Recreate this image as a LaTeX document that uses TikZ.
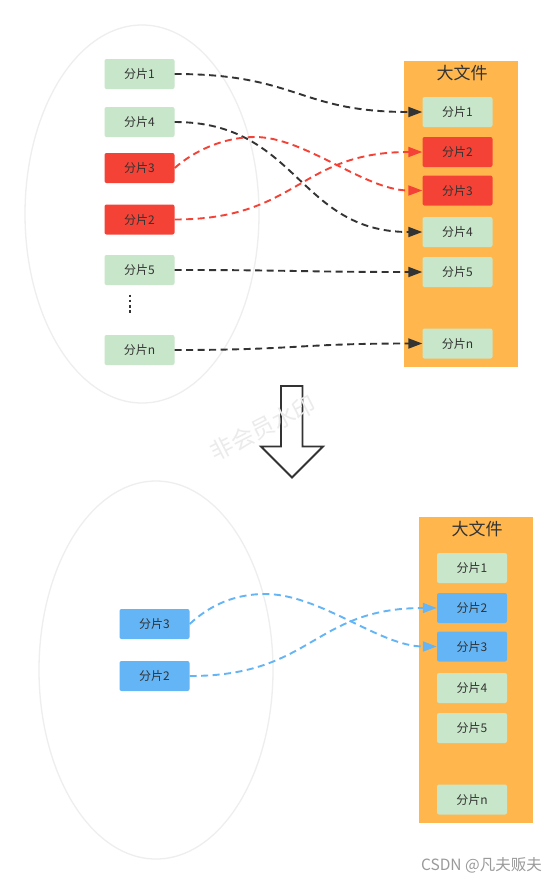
\documentclass[tikz,border=0pt]{standalone}
\usepackage{fontspec}
\newfontfamily\cjk{Noto Sans CJK SC}
\usetikzlibrary{arrows.meta}
\definecolor{ink}{HTML}{333333}
\definecolor{chunkgreen}{HTML}{C8E6C9}
\definecolor{chunkred}{HTML}{F44336}
\definecolor{chunkblue}{HTML}{64B5F6}
\definecolor{panelorange}{HTML}{FFB74D}
\definecolor{ringgrey}{HTML}{EEEEEE}
\definecolor{markgrey}{HTML}{EBEBEB}
\definecolor{csdngrey}{HTML}{9A9A9A}
\begin{document}
\begin{tikzpicture}[x=1pt,y=-1pt,
  chunk/.style={rectangle, rounded corners=2pt, minimum width=70pt, minimum height=30pt,
    inner sep=0pt, text=ink, font=\cjk\fontsize{12pt}{14pt}\selectfont},
  gchunk/.style={chunk, fill=chunkgreen},
  rchunk/.style={chunk, fill=chunkred},
  bchunk/.style={chunk, fill=chunkblue},
  panelbox/.style={rectangle, fill=panelorange, minimum width=114pt, minimum height=306pt, inner sep=0pt},
  paneltitle/.style={text=ink, font=\cjk\fontsize{17pt}{20pt}\selectfont, inner sep=0pt},
  ring/.style={draw=ringgrey, line width=1.3pt},
  link/.style={dash pattern=on 7pt off 4.5pt, line width=1.9pt},
  blink/.style={link, draw=ink, -{Triangle[length=14pt,width=10pt,fill=ink]}},
  rlink/.style={link, draw=chunkred, -{Triangle[length=14pt,width=10pt,fill=chunkred]}},
  ulink/.style={link, draw=chunkblue, -{Triangle[length=14pt,width=10pt,fill=chunkblue]}},
]
\useasboundingbox (0,0) rectangle (558,884);
\fill[white] (0,0) rectangle (558,884);

% ---------- top part ----------
\draw[ring] (142,214) ellipse [x radius=117, y radius=189];
\node[panelbox] (file) at (461,214) {};
\node[paneltitle] (filetitle) at (462,73) {大文件};

\node[gchunk] (l1) at (139.5,74)  {分片1};
\node[gchunk] (l4) at (139.5,122) {分片4};
\node[rchunk] (l3) at (139.5,168) {分片3};
\node[rchunk] (l2) at (139.5,219.5) {分片2};
\node[gchunk] (l5) at (139.5,270) {分片5};
\node[gchunk] (ln) at (139.5,350) {分片n};
\draw[ink, line width=2.6pt, dash pattern=on 2.6pt off 2.6pt] (130,294.5) -- (130,315);

\node[gchunk] (r1) at (457.5,112)   {分片1};
\node[rchunk] (r2) at (457.5,152)   {分片2};
\node[rchunk] (r3) at (457.5,190.5) {分片3};
\node[gchunk] (r4) at (457.5,232)   {分片4};
\node[gchunk] (r5) at (457.5,272)   {分片5};
\node[gchunk] (rn) at (457.5,343.5) {分片n};

\draw[blink] (l1.east) .. controls (298,74) and (298,112) .. (r1.west);
\draw[blink] (l4.east) .. controls (298,122) and (298,232) .. (r4.west);
\draw[rlink] (l3.east) .. controls (195,150) and (225,137) .. (255,137)
                       .. controls (305,137) and (365,190.5) .. (r3.west);
\draw[rlink] (l2.east) .. controls (298.5,219.5) and (298.5,152) .. (r2.west);
\draw[blink] (l5.east) .. controls (298,270) and (298,272) .. (r5.west);
\draw[blink] (ln.east) .. controls (298,350) and (298,343.5) .. (rn.west);

% ---------- down arrow ----------
\draw[ink, line width=1.8pt, line join=miter]
  (281,386) -- (302.5,386) -- (302.5,446.5) -- (323,446.5) -- (292,477.5)
  -- (261,446.5) -- (281,446.5) -- cycle;

% ---------- watermark (drawn over the arrow) ----------
\node[text=markgrey, font=\cjk\fontsize{23pt}{26pt}\selectfont, rotate=27] (mark) at (263,428) {非会员水印};

% ---------- bottom part ----------
\draw[ring] (156,670) ellipse [x radius=117, y radius=189];
\node[panelbox] (bfile) at (476,670) {};
\node[paneltitle] (bfiletitle) at (477,529) {大文件};

\node[bchunk] (bl3) at (154.5,624) {分片3};
\node[bchunk] (bl2) at (154.5,676) {分片2};

\node[gchunk] (br1) at (472,568)   {分片1};
\node[bchunk] (br2) at (472,608)   {分片2};
\node[bchunk] (br3) at (472,646.5) {分片3};
\node[gchunk] (br4) at (472,688)   {分片4};
\node[gchunk] (br5) at (472,728)   {分片5};
\node[gchunk] (brn) at (472,799.5) {分片n};

\draw[ulink] (bl3.east) .. controls (210,605) and (235,594) .. (265,594)
                        .. controls (320,594) and (380,646.5) .. (br3.west);
\draw[ulink] (bl2.east) .. controls (313,676) and (313,608) .. (br2.west);

% ---------- credit ----------
\node[text=csdngrey, font=\cjk\fontsize{15.5pt}{18pt}\selectfont, anchor=east, inner sep=0pt] (credit) at (542,865) {CSDN @凡夫贩夫};
\end{tikzpicture}
\end{document}
